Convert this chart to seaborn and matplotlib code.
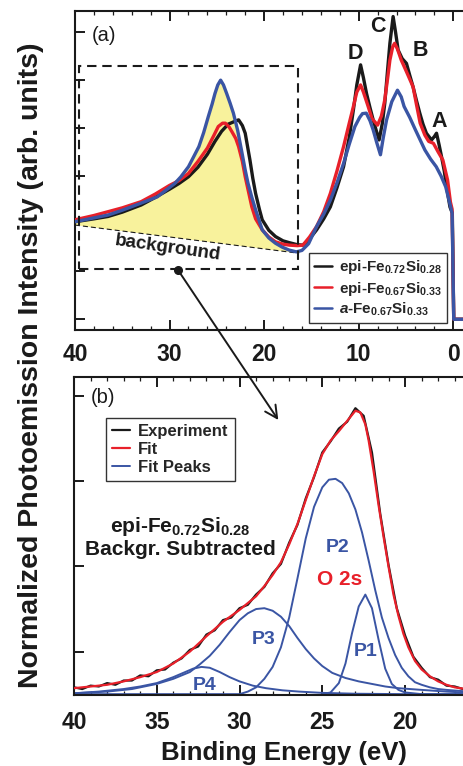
import numpy as np
import matplotlib
matplotlib.use("Agg")
import matplotlib.pyplot as plt
import seaborn as sns
from matplotlib.patches import Rectangle, FancyArrowPatch
from matplotlib.ticker import MultipleLocator

# --- panel (a): valence band spectra (binding energy eV, intensity) ---
epi72_x = [40.0, 38.0, 36.5, 35.0, 33.0, 31.5, 30.0, 29.0, 28.0, 27.0, 26.0, 25.2, 24.5, 23.8, 23.2,
           22.7, 22.3, 22.0, 21.5, 21.2, 20.9, 20.5, 20.2, 19.5, 18.8, 18.0, 17.3, 16.5, 15.9, 15.2,
           14.45, 13.7, 13.0, 12.3, 11.6, 11.0, 10.56, 10.2, 9.8, 9.5, 9.17, 8.8, 8.47, 8.15, 7.84,
           7.5, 7.24, 6.95, 6.7, 6.36, 6.1, 5.83, 5.4, 4.95, 4.6, 4.25, 3.9, 3.54, 3.2, 2.84, 2.3,
           2.0, 1.77, 1.5, 1.24, 0.95, 0.71, 0.35, 0.10, -0.05, -1.1]
epi72_y = [2.04, 2.10, 2.15, 2.24, 2.39, 2.55, 2.72, 2.84, 2.98, 3.18, 3.45, 3.72, 3.93, 4.08, 4.13,
           4.17, 4.05, 3.89, 3.33, 2.95, 2.63, 2.30, 2.08, 1.86, 1.73, 1.64, 1.60, 1.56, 1.55, 1.68,
           1.87, 2.10, 2.35, 2.75, 3.19, 3.80, 4.38, 4.90, 5.32, 5.05, 4.72, 4.42, 4.17, 3.95, 3.75,
           4.10, 4.52, 5.20, 5.77, 6.33, 6.00, 5.63, 5.45, 5.35, 5.10, 4.86, 4.58, 4.31, 4.08, 3.89, 3.75,
           3.82, 3.89, 3.65, 3.40, 3.10, 2.77, 2.35, 2.22, 0.0, 0.0]

epi67_x = [40.0, 38.0, 36.5, 35.0, 33.0, 31.5, 30.0, 29.0, 28.0, 27.0, 26.0, 25.3, 24.85, 24.4, 24.1,
           23.7, 23.4, 23.0, 22.7, 22.3, 22.0, 21.6, 21.3, 20.9, 20.2, 19.5, 18.8, 18.0, 17.3, 16.5,
           15.9, 15.2, 14.45, 13.7, 13.0, 12.3, 11.6, 11.0, 10.56, 10.2, 9.8, 9.5, 9.0, 8.6, 8.0,
           7.6, 7.24, 6.9, 6.7, 6.4, 6.2, 5.9, 5.5, 5.0, 4.6, 4.25, 3.9, 3.5, 3.0, 2.6, 2.1, 1.6,
           1.1, 0.6, 0.3, 0.12, -0.05, -1.1]
epi67_y = [2.08, 2.17, 2.25, 2.33, 2.46, 2.62, 2.80, 2.90, 3.05, 3.30, 3.58, 3.85, 4.03, 4.10, 4.10,
           4.02, 3.92, 3.78, 3.61, 3.30, 2.98, 2.62, 2.35, 2.10, 1.87, 1.72, 1.62, 1.57, 1.55, 1.54,
           1.55, 1.72, 1.94, 2.25, 2.63, 3.10, 3.61, 4.10, 4.45, 4.75, 4.90, 4.75, 4.45, 4.20, 4.06,
           4.25, 4.59, 5.10, 5.42, 5.70, 5.77, 5.65, 5.42, 5.20, 5.02, 4.86, 4.50, 4.10, 3.85, 3.72,
           3.68, 3.50, 3.33, 2.91, 2.45, 2.30, 0.0, 0.0]

amor_x = [40.0, 38.0, 36.5, 35.0, 33.0, 31.3, 29.45, 28.8, 28.0, 27.5, 26.9, 26.4, 25.9, 25.5, 25.2,
          24.9, 24.6, 24.3, 23.96, 23.6, 23.25, 22.8, 22.4, 22.0, 21.7, 21.3, 20.9, 20.5, 20.2, 19.5,
          18.8, 18.1, 17.4, 16.6, 16.0, 15.3, 14.45, 13.7, 13.0, 12.3, 11.6, 11.0, 10.4, 9.9, 9.6,
          9.2, 8.8, 8.47, 8.1, 7.7, 7.4, 7.05, 6.5, 5.9, 5.5, 5.2, 4.6, 4.0, 3.5, 3.0, 2.4, 1.8,
          1.3, 0.8, 0.4, 0.12, -0.05, -1.1]
amor_y = [2.04, 2.12, 2.18, 2.28, 2.43, 2.56, 2.84, 2.98, 3.19, 3.38, 3.61, 3.90, 4.24, 4.50, 4.72,
          4.90, 5.00, 4.90, 4.72, 4.52, 4.31, 3.95, 3.54, 3.12, 2.84, 2.55, 2.29, 2.05, 1.87, 1.70,
          1.59, 1.51, 1.45, 1.41, 1.44, 1.58, 1.94, 2.20, 2.49, 2.85, 3.26, 3.66, 4.03, 4.22, 4.30,
          4.31, 4.15, 3.96, 3.70, 3.44, 3.80, 4.17, 4.55, 4.79, 4.65, 4.45, 4.22, 3.96, 3.75, 3.54,
          3.35, 3.19, 3.00, 2.77, 2.45, 2.22, 0.0, 0.0]

# background line under the O 2s region
bg_x = [40.0, 16.3]
bg_y = [1.97, 1.38]

# --- panel (b): background-subtracted O 2s region ---
exp_x = [40.0, 39.5, 39.0, 38.5, 38.0, 37.5, 37.0, 36.5, 36.0, 35.5, 35.0, 34.5, 34.0, 33.5, 33.0,
         32.5, 32.0, 31.5, 31.0, 30.5, 30.0, 29.5, 29.0, 28.5, 28.0, 27.5, 27.0, 26.5, 26.0, 25.5,
         25.0, 24.5, 24.0, 23.5, 23.0, 22.5, 22.0, 21.5, 21.0, 20.5, 20.0, 19.5, 19.0, 18.5, 18.0,
         17.5, 17.0, 16.5]
exp_y = [0.08, 0.06, 0.10, 0.09, 0.13, 0.11, 0.16, 0.16, 0.22, 0.21, 0.28, 0.29, 0.37, 0.42, 0.52,
         0.56, 0.70, 0.75, 0.87, 0.90, 1.01, 1.05, 1.17, 1.26, 1.42, 1.53, 1.78, 1.99, 2.30, 2.55,
         2.84, 2.97, 3.12, 3.20, 3.36, 3.27, 2.84, 2.12, 1.52, 1.01, 0.69, 0.44, 0.31, 0.20, 0.17,
         0.10, 0.09, 0.06]

fit_x = [40.0, 39.0, 38.0, 37.0, 36.0, 35.0, 34.0, 33.0, 32.0, 31.0, 30.0, 29.0, 28.5, 28.0, 27.5,
         27.0, 26.5, 26.0, 25.5, 25.0, 24.5, 24.0, 23.5, 23.0, 22.7, 22.4, 22.2, 21.9, 21.6, 21.3,
         21.0, 20.7, 20.4, 20.1, 19.8, 19.4, 19.0, 18.5, 18.0, 17.5, 17.0, 16.5]
fit_y = [0.07, 0.09, 0.11, 0.15, 0.20, 0.26, 0.36, 0.50, 0.68, 0.85, 0.99, 1.15, 1.27, 1.40, 1.55,
         1.76, 2.00, 2.28, 2.56, 2.82, 2.98, 3.09, 3.21, 3.33, 3.31, 3.17, 2.98, 2.62, 2.22, 1.85,
         1.50, 1.17, 0.92, 0.71, 0.55, 0.39, 0.29, 0.21, 0.15, 0.11, 0.08, 0.065]

p1_x = [25.0, 24.5, 24.0, 23.6, 23.2, 22.8, 22.4, 22.0, 21.6, 21.2, 20.8, 20.4, 20.0, 19.0, 16.5]
p1_y = [0.0, 0.02, 0.13, 0.36, 0.72, 1.03, 1.17, 1.01, 0.64, 0.30, 0.12, 0.05, 0.02, 0.0, 0.0]

p2_x = [40.0, 30.0, 29.5, 29.0, 28.5, 28.0, 27.5, 27.0, 26.5, 26.0, 25.5, 25.0, 24.6, 24.2, 23.8,
        23.4, 23.0, 22.6, 22.2, 21.8, 21.4, 21.0, 20.6, 20.2, 19.8, 19.4, 19.0, 18.5, 18.0, 17.5, 16.5]
p2_y = [0.0, 0.0, 0.03, 0.08, 0.18, 0.32, 0.55, 0.90, 1.36, 1.83, 2.20, 2.43, 2.52, 2.53, 2.48,
        2.36, 2.17, 1.90, 1.57, 1.22, 0.90, 0.66, 0.46, 0.31, 0.21, 0.14, 0.11, 0.08, 0.06, 0.05, 0.035]

p3_x = [40.0, 38.0, 36.5, 35.0, 34.0, 33.0, 32.4, 31.8, 31.2, 30.6, 30.0, 29.5, 29.0, 28.5, 28.0,
        27.5, 27.0, 26.5, 26.0, 25.5, 25.0, 24.4, 23.6, 22.8, 22.0, 21.2, 20.4, 19.0, 17.5, 16.5]
p3_y = [0.01, 0.03, 0.06, 0.12, 0.18, 0.26, 0.35, 0.45, 0.58, 0.73, 0.87, 0.95, 1.00, 1.01, 0.98,
        0.91, 0.80, 0.66, 0.53, 0.42, 0.33, 0.25, 0.19, 0.15, 0.12, 0.09, 0.07, 0.05, 0.03, 0.02]

p4_x = [40.0, 38.5, 37.0, 36.0, 35.0, 34.0, 33.4, 32.8, 32.3, 31.8, 31.2, 30.6, 30.0, 29.2, 28.4,
        27.4, 26.4, 25.0, 23.0, 20.0, 16.5]
p4_y = [0.01, 0.03, 0.06, 0.09, 0.13, 0.20, 0.25, 0.30, 0.32, 0.31, 0.26, 0.20, 0.15, 0.10, 0.07,
        0.045, 0.03, 0.015, 0.005, 0.0, 0.0]

BLACK = "#1a1a1a"
RED = "#e8202a"
BLUE = "#3a55a4"
YELLOW = "#f8f29c"

sns.set_style("ticks")
plt.rcParams["font.family"] = ["Liberation Sans", "DejaVu Sans"]
plt.rcParams["mathtext.fontset"] = "custom"
plt.rcParams["mathtext.rm"] = "Liberation Sans:bold"
plt.rcParams["mathtext.bf"] = "Liberation Sans:bold"
plt.rcParams["mathtext.it"] = "Liberation Sans:italic:bold"

fig = plt.figure(figsize=(4.63, 7.66), dpi=100)
ax_a = fig.add_axes([75 / 463, 1 - 330 / 766, 388 / 463, 319 / 766])
ax_b = fig.add_axes([74 / 463, 1 - 695 / 766, 389 / 463, 318.3 / 766])

# ---------- panel (a) ----------
seg = [(x, y) for x, y in zip(amor_x, amor_y) if x >= 16.5]
fill_x = [p[0] for p in seg] + [bg_x[1], bg_x[0]]
fill_y = [p[1] for p in seg] + [bg_y[1], bg_y[0]]
ax_a.fill(fill_x, fill_y, color=YELLOW, lw=0, zorder=1)
ax_a.plot(bg_x, bg_y, color=BLACK, lw=0.8, ls=(0, (4.5, 2.7)), zorder=2)

sns.lineplot(x=epi72_x, y=epi72_y, ax=ax_a, color=BLACK, lw=2.4, sort=False, estimator=None,
             label=r"epi-Fe$_{0.72}$Si$_{0.28}$", zorder=3)
sns.lineplot(x=epi67_x, y=epi67_y, ax=ax_a, color=RED, lw=2.4, sort=False, estimator=None,
             label=r"epi-Fe$_{0.67}$Si$_{0.33}$", zorder=4)
sns.lineplot(x=amor_x, y=amor_y, ax=ax_a, color=BLUE, lw=2.4, sort=False, estimator=None,
             label=r"$a$-Fe$_{0.67}$Si$_{0.33}$", zorder=5)

ax_a.add_patch(Rectangle((39.58, 1.045), 16.45 - 39.58, 5.30 - 1.045, fill=False,
                         ec=BLACK, lw=1.5, ls=(0, (4.5, 2.8)), zorder=6))
ax_a.plot([29.1], [1.03], "o", color=BLACK, ms=5.5, zorder=7)

ax_a.text(30.2, 1.50, "background", rotation=-8, ha="center", va="center",
          fontsize=13.5, fontweight="bold", color=BLACK)
for lab, x, y in [("D", 10.32, 5.56), ("C", 7.93, 6.13), ("B", 3.52, 5.63), ("A", 1.51, 4.13)]:
    ax_a.text(x, y, lab, ha="center", va="center", fontsize=15.5, fontweight="bold", color=BLACK)
ax_a.text(38.23, 5.94, "(a)", ha="left", va="center", fontsize=14.5, color=BLACK)

ax_a.set_xlim(40, -1.03)
ax_a.set_ylim(-0.224, 6.446)
ax_a.set_xticks([40, 30, 20, 10, 0])
ax_a.xaxis.set_minor_locator(MultipleLocator(2))
ax_a.set_yticks(range(0, 7))
ax_a.set_yticklabels([])
ax_a.set_xlabel("")
ax_a.set_ylabel("")
leg = ax_a.legend(loc="upper right", bbox_to_anchor=(0.959, 0.241), borderaxespad=0,
                  fontsize=11, handlelength=1.2, handletextpad=0.4, borderpad=0.35,
                  labelspacing=0.2, fancybox=False, framealpha=1, edgecolor="#333333")
leg.get_frame().set_linewidth(1.0)
for t in leg.get_texts():
    t.set_fontweight("bold")
for h in leg.get_lines():
    h.set_linewidth(1.8)

# ---------- panel (b) ----------
sns.lineplot(x=exp_x, y=exp_y, ax=ax_b, color=BLACK, lw=1.6, sort=False, estimator=None,
             label="Experiment", zorder=3)
sns.lineplot(x=fit_x, y=fit_y, ax=ax_b, color=RED, lw=1.6, sort=False, estimator=None,
             label="Fit", zorder=4)
first = True
for px, py in [(p1_x, p1_y), (p2_x, p2_y), (p3_x, p3_y), (p4_x, p4_y)]:
    sns.lineplot(x=px, y=py, ax=ax_b, color=BLUE, lw=1.4, sort=False, estimator=None,
                 label="Fit Peaks" if first else None, zorder=2)
    first = False

ax_b.text(33.6, 1.97, r"epi-Fe$_{0.72}$Si$_{0.28}$", ha="center", va="center",
          fontsize=15, fontweight="bold", color=BLACK)
ax_b.text(33.6, 1.70, "Backgr. Subtracted", ha="center", va="center",
          fontsize=15, fontweight="bold", color=BLACK)
for lab, x, y in [("P1", 22.37, 0.50), ("P2", 24.09, 1.72), ("P3", 28.52, 0.64), ("P4", 32.13, 0.105)]:
    ax_b.text(x, y, lab, ha="center", va="center", fontsize=14, fontweight="bold", color=BLUE)
ax_b.text(23.93, 1.35, "O 2s", ha="center", va="center", fontsize=15, fontweight="bold", color=RED)
ax_b.text(38.99, 3.485, "(b)", ha="left", va="center", fontsize=14.5, color=BLACK)

ax_b.set_xlim(40, 16.5)
ax_b.set_ylim(-0.01, 3.73)
ax_b.set_xticks([40, 35, 30, 25, 20])
ax_b.xaxis.set_minor_locator(MultipleLocator(1))
ax_b.set_yticks([0.5, 1.5, 2.5, 3.5])
ax_b.set_yticklabels([])
ax_b.set_xlabel("")
ax_b.set_ylabel("")
ax_b.patch.set_alpha(0)
leg_b = ax_b.legend(loc="upper left", bbox_to_anchor=(0.0815, 0.871), borderaxespad=0,
                    fontsize=12, handlelength=1.1, handletextpad=0.5, borderpad=0.35,
                    labelspacing=0.2, fancybox=False, framealpha=1, edgecolor="#333333")
leg_b.get_frame().set_linewidth(1.0)
for t in leg_b.get_texts():
    t.set_fontweight("bold")

for ax, pad in [(ax_a, 9.0), (ax_b, 11.5)]:
    for s in ["left", "top", "bottom"]:
        ax.spines[s].set_linewidth(1.5)
        ax.spines[s].set_color(BLACK)
    ax.spines["right"].set_visible(False)
    ax.tick_params(axis="both", which="both", direction="in", top=True, right=False,
                   colors=BLACK)
    ax.tick_params(axis="both", which="major", length=7, width=1.4)
    ax.tick_params(axis="both", which="minor", length=3.2, width=0.9)
    ax.tick_params(axis="x", which="major", pad=pad, labelsize=16.5)
    for t in ax.get_xticklabels():
        t.set_fontweight("bold")

# arrow from the dashed region in (a) down into (b)
fig.add_artist(FancyArrowPatch((178 / 463, 1 - 270 / 766), (278.3 / 463, 1 - 420 / 766),
                               transform=fig.transFigure,
                               arrowstyle="->,head_length=0.55,head_width=0.28",
                               mutation_scale=16, lw=1.4, color=BLACK,
                               shrinkA=0, shrinkB=0))

fig.text(31 / 463, 1 - 365 / 766, "Normalized Photoemission Intensity (arb. units)",
         rotation=90, ha="center", va="center", fontsize=20.5, fontweight="bold", color=BLACK)
fig.text(284 / 463, 1 - 760 / 766, "Binding Energy (eV)", ha="center", va="baseline",
         fontsize=18.5, fontweight="bold", color=BLACK)

fig.savefig("out.png", dpi=100)
